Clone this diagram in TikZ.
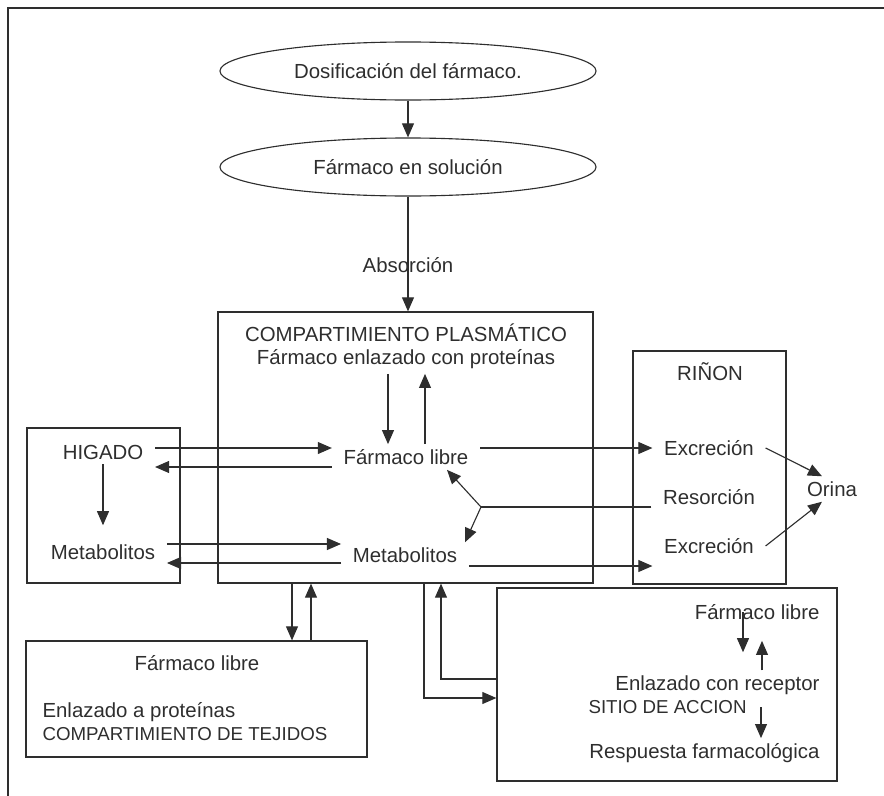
\documentclass[tikz,border=0pt]{standalone}
\usepackage{fontspec}
\setmainfont{Liberation Sans}
\usetikzlibrary{arrows.meta,shapes.geometric}
\definecolor{tinta}{gray}{0.18}

\begin{document}
\begin{tikzpicture}[x=0.025cm,y=-0.025cm,color=tinta,line width=0.8pt,
            font=\fontsize{14.5}{17}\selectfont,
            >={Triangle[length=10pt,width=8.5pt]},
            elipse/.style={draw,ellipse,minimum width=9.4cm,minimum height=1.45cm,inner sep=0pt},
            caja/.style={draw,inner sep=0pt},
            etiqueta/.style={inner xsep=8pt},
            chico/.style={font=\fontsize{13.3}{16}\selectfont}]
            \useasboundingbox (0,0) rectangle (884,796);
            \draw (8,796) -- (8,8) -- (884,8);

            \node[elipse] (dosis) at (408,71) {Dosificación del fármaco.};
            \node[elipse] (solucion) at (408,167) {Fármaco en solución};

            \node[caja,minimum width=9.375cm,minimum height=6.775cm] (plasma) at (405.5,447.5) {};
            \node[caja,minimum width=3.825cm,minimum height=3.875cm] (higado) at (103.5,505.5) {};
            \node[caja,minimum width=3.825cm,minimum height=5.825cm] (rinon) at (709.5,467.5) {};
            \node[caja,minimum width=8.525cm,minimum height=2.9cm] (tejidos) at (196.5,699) {};
            \node[caja,minimum width=8.5cm,minimum height=4.825cm] (sitio) at (667,684.5) {};

            \node[etiqueta] (plasma_t) at (406,333) {COMPARTIMIENTO PLASMÁTICO};
            \node[etiqueta] (enlazado) at (406,359) {Fármaco enlazado con proteínas};
            \node[etiqueta] (libre) at (406,457) {Fármaco libre};
            \node[etiqueta] (meta) at (405,555) {Metabolitos};

            \node[etiqueta] (higado_t) at (103,452) {HIGADO};
            \node[etiqueta] (higado_m) at (103,552) {Metabolitos};

            \node[etiqueta] (rinon_t) at (710,372) {RIÑON};
            \node[etiqueta] (exc1) at (709,448) {Excreción};
            \node[etiqueta] (resor) at (709,497) {Resorción};
            \node[etiqueta] (exc2) at (709,546) {Excreción};
            \node[etiqueta] (orina) at (832,489) {Orina};
            \coordinate (rs) at (481,507);

            \node[etiqueta] (tej_libre) at (197,663) {Fármaco libre};
            \node[etiqueta,anchor=west,inner xsep=0pt] (tej_enl) at (42,712) {Enlazado a proteínas};
            \node[etiqueta,chico,anchor=west,inner xsep=0pt] (tej_comp) at (42,734) {COMPARTIMIENTO DE TEJIDOS};

            \node[etiqueta,anchor=east,inner xsep=0pt] (sitio_libre) at (820,612) {Fármaco libre};
            \node[etiqueta,anchor=east,inner xsep=0pt] (sitio_enl) at (820,685) {Enlazado con receptor};
            \node[etiqueta,chico,anchor=west,inner xsep=0pt] (sitio_t) at (588,707) {SITIO DE ACCION};
            \node[etiqueta,anchor=east,inner xsep=0pt] (sitio_resp) at (820,753) {Respuesta farmacológica};

            \draw[->] (dosis) -- (solucion);
            \draw[->] (solucion) -- (solucion |- plasma.north) node[pos=0.6]{Absorción};

            \draw[->] (enlazado.south -| 388,0) -- (libre.north -| 388,0);
            \draw[->] (libre.north -| 425,0) -- (enlazado.south -| 425,0);

            \draw[->] (higado_t.east |- 0,448) -- (libre.west |- 0,448);
            \draw[->] (libre.west |- 0,467) -- (higado_t.east |- 0,467);
            \draw[->,shorten >=0.35cm] (higado_t) -- (higado_m);
            \draw[->] (higado_m.east |- 0,544) -- (meta.west |- 0,544);
            \draw[->] (meta.west |- 0,563) -- (higado_m.east |- 0,563);

            \draw[->] (libre.east |- 0,448) -- (exc1.west |- 0,448);
            \draw[->] (meta.east |- 0,566) -- (exc2.west |- 0,566);
            \draw (resor.west |- rs) -- (rs);
            \draw[->] (rs) -- (libre.south -| 447,0);
            \draw[->] (rs) -- (meta.north -| 465,0);
            \draw[->] (exc1.east) -- (orina.north -| 822,0);
            \draw[->] (exc2.east) -- (orina.south -| 822,0);

            \draw[->] (plasma.south -| 292,0) -- (tejidos.north -| 292,0);
            \draw[->] (tejidos.north -| 311,0) -- (plasma.south -| 311,0);
            \draw[->] (plasma.south -| 424,0) |- (sitio.west |- 0,698);
            \draw[->] (sitio.west |- 0,679) -| (plasma.south -| 441,0);

            \draw[->,shorten >=0.45cm] (sitio_libre -| 743,0) -- (sitio_enl.north -| 743,0);
            \draw[->,shorten >=0.4cm] (sitio_enl.north -| 762,0) -- (sitio_libre.south -| 762,0);
            \draw[->] (sitio_t -| 761,0) -- (sitio_resp.north -| 761,0);
          \end{tikzpicture}
\end{document}
